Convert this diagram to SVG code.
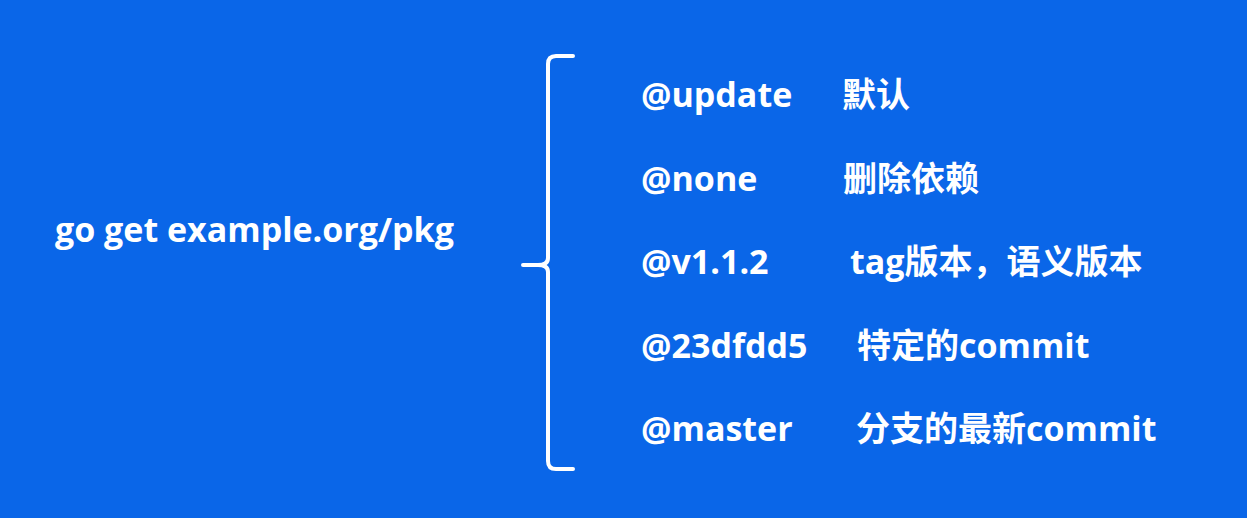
<svg xmlns="http://www.w3.org/2000/svg" width="1247" height="518" viewBox="0 0 1247 518">
<style>
text{fill:#ffffff;font-family:"Open Sans","Noto Sans CJK SC",sans-serif;font-weight:bold;font-size:34px;}
.brace{fill:none;stroke:#ffffff;stroke-width:4;stroke-linecap:round;stroke-linejoin:round;}
</style>
<rect x="0" y="0" width="1247" height="518" fill="#0A66E8"/>
<g id="cmd"><text x="55" y="242">go get example.org/pkg</text></g>
<g id="connectors">
<path class="brace" d="M573,56 L556,56 Q548,56 548,64 L548,258 Q548,265 538,265 L523,265 L538,265 Q548,265 548,272 L548,461 Q548,469 556,469 L573,469"/>
</g>
<g id="update"><text x="641" y="107">@update</text><text x="842" y="107">默认</text></g>
<g id="none"><text x="641" y="191">@none</text><text x="843" y="191">删除依赖</text></g>
<g id="v112"><text x="641" y="274">@v1.1.2</text><text x="850" y="274">tag版本，语义版本</text></g>
<g id="hash"><text x="641" y="358">@23dfdd5</text><text x="857" y="358">特定的commit</text></g>
<g id="master"><text x="641" y="441">@master</text><text x="856" y="441">分支的最新commit</text></g>
</svg>
